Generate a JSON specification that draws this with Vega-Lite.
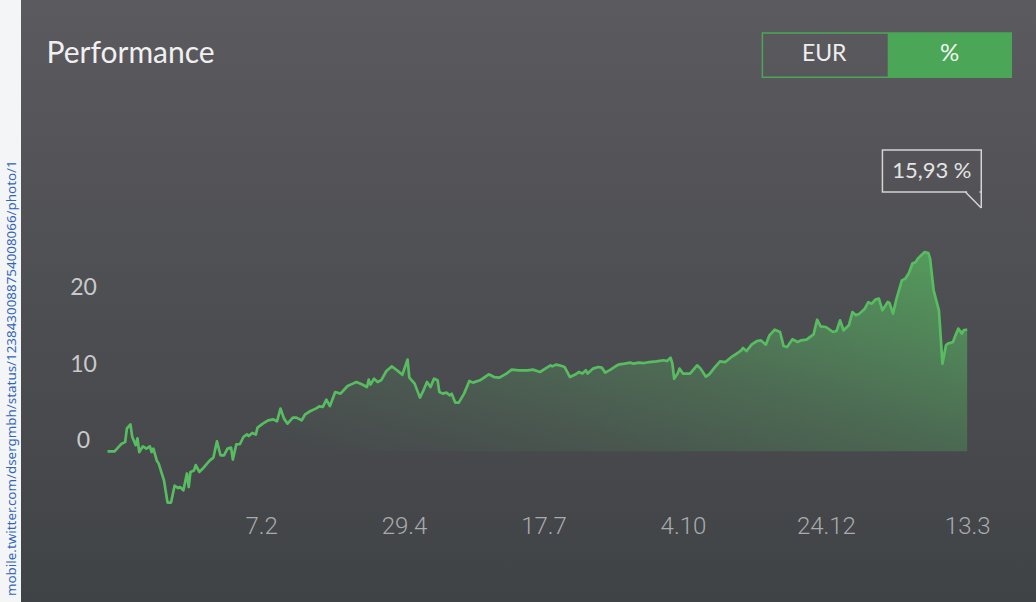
{
  "$schema": "https://vega.github.io/schema/vega-lite/v6.json",
  "width": 1015,
  "height": 602,
  "autosize": {"type": "none"},
  "padding": {"left": 21, "top": 0, "right": 0, "bottom": 0},
  "background": "#f4f5f7",
  "view": {
    "stroke": null,
    "fill": {"gradient": "linear", "x1": 0, "y1": 0, "x2": 0, "y2": 1,
      "stops": [{"offset": 0, "color": "#5b5a5f"}, {"offset": 1, "color": "#404346"}]}
  },
  "title": {
    "text": "mobile.twitter.com/dsergmbh/status/1238430088754008066/photo/1",
    "orient": "left", "anchor": "start", "frame": "group",
    "font": "Noto Sans", "fontSize": 13.4, "fontWeight": "normal", "color": "#3366bb", "offset": 3, "dx": 6
  },
  "config": {
    "axis": {"domain": false, "ticks": false, "tickSize": 0, "grid": false},
    "view": {"stroke": null}
  },
  "layer": [
    {
      "data": {"values": [
        {"date": "2018-11-12", "value": 0},
        {"date": "2018-11-16", "value": 0},
        {"date": "2018-11-20", "value": 1.0},
        {"date": "2018-11-22", "value": 1.2},
        {"date": "2018-11-23", "value": 3.0},
        {"date": "2018-11-25", "value": 3.5},
        {"date": "2018-11-26", "value": 1.9},
        {"date": "2018-11-28", "value": 0.8},
        {"date": "2018-11-29", "value": 1.7},
        {"date": "2018-11-30", "value": -0.1},
        {"date": "2018-12-02", "value": 0.65},
        {"date": "2018-12-04", "value": 0.35},
        {"date": "2018-12-06", "value": 0.65},
        {"date": "2018-12-07", "value": -0.1},
        {"date": "2018-12-08", "value": 0.35},
        {"date": "2018-12-10", "value": -1.27},
        {"date": "2018-12-11", "value": -1.6},
        {"date": "2018-12-14", "value": -3.8},
        {"date": "2018-12-16", "value": -6.7},
        {"date": "2018-12-18", "value": -6.7},
        {"date": "2018-12-20", "value": -4.5},
        {"date": "2018-12-22", "value": -4.8},
        {"date": "2018-12-23", "value": -4.67},
        {"date": "2018-12-25", "value": -5.1},
        {"date": "2018-12-27", "value": -2.9},
        {"date": "2018-12-28", "value": -4.67},
        {"date": "2018-12-29", "value": -2.7},
        {"date": "2018-12-31", "value": -2.5},
        {"date": "2019-01-01", "value": -1.8},
        {"date": "2019-01-03", "value": -2.7},
        {"date": "2019-01-05", "value": -2.26},
        {"date": "2019-01-07", "value": -1.7},
        {"date": "2019-01-09", "value": -1.18},
        {"date": "2019-01-11", "value": -0.82},
        {"date": "2019-01-13", "value": 1.3},
        {"date": "2019-01-15", "value": -0.52},
        {"date": "2019-01-17", "value": -0.52},
        {"date": "2019-01-19", "value": 0.35},
        {"date": "2019-01-21", "value": 0.48},
        {"date": "2019-01-22", "value": -1.08},
        {"date": "2019-01-24", "value": 0.92},
        {"date": "2019-01-26", "value": 0.92},
        {"date": "2019-01-28", "value": 1.87},
        {"date": "2019-01-30", "value": 2.22},
        {"date": "2019-01-31", "value": 2.0},
        {"date": "2019-02-02", "value": 2.4},
        {"date": "2019-02-04", "value": 2.18},
        {"date": "2019-02-05", "value": 3.1},
        {"date": "2019-02-08", "value": 3.62},
        {"date": "2019-02-11", "value": 4.05},
        {"date": "2019-02-14", "value": 4.18},
        {"date": "2019-02-16", "value": 3.92},
        {"date": "2019-02-18", "value": 5.58},
        {"date": "2019-02-20", "value": 4.27},
        {"date": "2019-02-22", "value": 3.62},
        {"date": "2019-02-25", "value": 4.4},
        {"date": "2019-02-27", "value": 4.4},
        {"date": "2019-03-02", "value": 4.05},
        {"date": "2019-03-04", "value": 4.84},
        {"date": "2019-03-07", "value": 5.27},
        {"date": "2019-03-10", "value": 5.58},
        {"date": "2019-03-12", "value": 5.88},
        {"date": "2019-03-14", "value": 5.8},
        {"date": "2019-03-16", "value": 6.76},
        {"date": "2019-03-18", "value": 5.92},
        {"date": "2019-03-21", "value": 7.75},
        {"date": "2019-03-24", "value": 7.54},
        {"date": "2019-03-28", "value": 8.54},
        {"date": "2019-03-31", "value": 8.85},
        {"date": "2019-04-02", "value": 9.06},
        {"date": "2019-04-05", "value": 8.76},
        {"date": "2019-04-08", "value": 8.4},
        {"date": "2019-04-09", "value": 9.37},
        {"date": "2019-04-10", "value": 8.72},
        {"date": "2019-04-12", "value": 9.5},
        {"date": "2019-04-14", "value": 9.06},
        {"date": "2019-04-16", "value": 9.28},
        {"date": "2019-04-19", "value": 10.5},
        {"date": "2019-04-22", "value": 11.1},
        {"date": "2019-04-25", "value": 10.6},
        {"date": "2019-04-28", "value": 10.0},
        {"date": "2019-05-01", "value": 12.0},
        {"date": "2019-05-02", "value": 9.63},
        {"date": "2019-05-05", "value": 8.85},
        {"date": "2019-05-08", "value": 7.02},
        {"date": "2019-05-10", "value": 7.97},
        {"date": "2019-05-12", "value": 9.06},
        {"date": "2019-05-14", "value": 8.4},
        {"date": "2019-05-16", "value": 9.5},
        {"date": "2019-05-18", "value": 9.28},
        {"date": "2019-05-19", "value": 7.75},
        {"date": "2019-05-21", "value": 7.54},
        {"date": "2019-05-23", "value": 7.67},
        {"date": "2019-05-25", "value": 7.32},
        {"date": "2019-05-26", "value": 7.54},
        {"date": "2019-05-28", "value": 6.37},
        {"date": "2019-05-30", "value": 6.37},
        {"date": "2019-06-02", "value": 7.54},
        {"date": "2019-06-05", "value": 9.19},
        {"date": "2019-06-07", "value": 8.98},
        {"date": "2019-06-11", "value": 9.28},
        {"date": "2019-06-16", "value": 10.07},
        {"date": "2019-06-19", "value": 9.71},
        {"date": "2019-06-22", "value": 9.63},
        {"date": "2019-06-26", "value": 10.16},
        {"date": "2019-06-29", "value": 10.68},
        {"date": "2019-07-03", "value": 10.59},
        {"date": "2019-07-08", "value": 10.59},
        {"date": "2019-07-11", "value": 10.68},
        {"date": "2019-07-15", "value": 10.37},
        {"date": "2019-07-18", "value": 10.81},
        {"date": "2019-07-21", "value": 11.24},
        {"date": "2019-07-22", "value": 11.1},
        {"date": "2019-07-24", "value": 11.33},
        {"date": "2019-07-26", "value": 11.24},
        {"date": "2019-07-29", "value": 11.02},
        {"date": "2019-08-01", "value": 9.71},
        {"date": "2019-08-04", "value": 10.03},
        {"date": "2019-08-06", "value": 10.37},
        {"date": "2019-08-08", "value": 10.16},
        {"date": "2019-08-10", "value": 10.59},
        {"date": "2019-08-11", "value": 10.16},
        {"date": "2019-08-14", "value": 10.81},
        {"date": "2019-08-17", "value": 11.02},
        {"date": "2019-08-19", "value": 10.94},
        {"date": "2019-08-21", "value": 10.29},
        {"date": "2019-08-24", "value": 10.68},
        {"date": "2019-08-27", "value": 11.15},
        {"date": "2019-08-29", "value": 11.37},
        {"date": "2019-09-01", "value": 11.46},
        {"date": "2019-09-04", "value": 11.59},
        {"date": "2019-09-06", "value": 11.46},
        {"date": "2019-09-09", "value": 11.59},
        {"date": "2019-09-12", "value": 11.54},
        {"date": "2019-09-15", "value": 11.67},
        {"date": "2019-09-19", "value": 11.76},
        {"date": "2019-09-23", "value": 11.9},
        {"date": "2019-09-25", "value": 11.8},
        {"date": "2019-09-27", "value": 12.25},
        {"date": "2019-09-28", "value": 11.46},
        {"date": "2019-09-29", "value": 9.5},
        {"date": "2019-10-01", "value": 10.16},
        {"date": "2019-10-02", "value": 10.81},
        {"date": "2019-10-04", "value": 10.16},
        {"date": "2019-10-08", "value": 10.16},
        {"date": "2019-10-12", "value": 11.24},
        {"date": "2019-10-14", "value": 10.81},
        {"date": "2019-10-17", "value": 9.76},
        {"date": "2019-10-19", "value": 10.1},
        {"date": "2019-10-22", "value": 10.98},
        {"date": "2019-10-25", "value": 11.76},
        {"date": "2019-10-28", "value": 11.67},
        {"date": "2019-11-01", "value": 12.42},
        {"date": "2019-11-04", "value": 12.85},
        {"date": "2019-11-06", "value": 13.2},
        {"date": "2019-11-07", "value": 13.5},
        {"date": "2019-11-09", "value": 13.11},
        {"date": "2019-11-12", "value": 13.99},
        {"date": "2019-11-15", "value": 14.42},
        {"date": "2019-11-17", "value": 14.51},
        {"date": "2019-11-20", "value": 13.95},
        {"date": "2019-11-22", "value": 15.16},
        {"date": "2019-11-25", "value": 15.9},
        {"date": "2019-11-28", "value": 15.6},
        {"date": "2019-11-30", "value": 13.76},
        {"date": "2019-12-02", "value": 13.63},
        {"date": "2019-12-05", "value": 14.64},
        {"date": "2019-12-08", "value": 14.29},
        {"date": "2019-12-10", "value": 14.51},
        {"date": "2019-12-13", "value": 14.6},
        {"date": "2019-12-17", "value": 15.29},
        {"date": "2019-12-19", "value": 17.2},
        {"date": "2019-12-21", "value": 16.34},
        {"date": "2019-12-24", "value": 16.25},
        {"date": "2019-12-28", "value": 15.6},
        {"date": "2019-12-30", "value": 15.73},
        {"date": "2020-01-01", "value": 17.12},
        {"date": "2020-01-03", "value": 15.82},
        {"date": "2020-01-06", "value": 16.47},
        {"date": "2020-01-08", "value": 18.2},
        {"date": "2020-01-10", "value": 17.8},
        {"date": "2020-01-12", "value": 18.0},
        {"date": "2020-01-15", "value": 18.65},
        {"date": "2020-01-17", "value": 19.5},
        {"date": "2020-01-19", "value": 19.3},
        {"date": "2020-01-21", "value": 19.83},
        {"date": "2020-01-23", "value": 19.96},
        {"date": "2020-01-25", "value": 18.43},
        {"date": "2020-01-28", "value": 19.52},
        {"date": "2020-01-29", "value": 19.39},
        {"date": "2020-01-31", "value": 18.0},
        {"date": "2020-02-02", "value": 19.96},
        {"date": "2020-02-05", "value": 22.35},
        {"date": "2020-02-07", "value": 22.58},
        {"date": "2020-02-09", "value": 23.3},
        {"date": "2020-02-11", "value": 24.54},
        {"date": "2020-02-13", "value": 24.75},
        {"date": "2020-02-14", "value": 25.19},
        {"date": "2020-02-16", "value": 25.62},
        {"date": "2020-02-18", "value": 26.05},
        {"date": "2020-02-20", "value": 25.92},
        {"date": "2020-02-21", "value": 25.19},
        {"date": "2020-02-23", "value": 21.05},
        {"date": "2020-02-26", "value": 18.43},
        {"date": "2020-02-28", "value": 11.46},
        {"date": "2020-03-01", "value": 13.86},
        {"date": "2020-03-02", "value": 14.08},
        {"date": "2020-03-05", "value": 14.29},
        {"date": "2020-03-06", "value": 14.94},
        {"date": "2020-03-08", "value": 16.04},
        {"date": "2020-03-10", "value": 15.39},
        {"date": "2020-03-11", "value": 15.82},
        {"date": "2020-03-13", "value": 15.93}
      ]},
      "encoding": {
        "x": {
          "field": "date", "type": "temporal",
          "scale": {"type": "utc", "domain": [{"year": 2018, "month": 9, "date": 24, "utc": true}, {"year": 2020, "month": 4, "date": 21, "utc": true}]},
          "axis": {
            "values": [
              {"year": 2019, "month": 2, "date": 7, "utc": true},
              {"year": 2019, "month": 4, "date": 29, "utc": true},
              {"year": 2019, "month": 7, "date": 17, "utc": true},
              {"year": 2019, "month": 10, "date": 4, "utc": true},
              {"year": 2019, "month": 12, "date": 24, "utc": true},
              {"year": 2020, "month": 3, "date": 13, "utc": true}
            ],
            "format": "%-d.%-m", "title": null, "orient": "bottom", "offset": -69,
            "labelPadding": 0, "labelBaseline": "alphabetic", "labelAlign": "center",
            "labelFont": "Roboto", "labelFontSize": 24, "labelFontWeight": 300, "labelColor": "#a9abae",
            "labelFlush": false, "labelOverlap": false
          }
        },
        "y": {
          "field": "value", "type": "quantitative",
          "scale": {"domain": [-19.7, 59], "nice": false, "zero": false},
          "axis": {
            "values": [0, 10, 20], "orient": "left", "offset": -87,
            "labelAlign": "center", "labelPadding": 25, "labelBaseline": "alphabetic", "labelOffset": -3.5,
            "labelFont": "Lato", "labelFontSize": 23, "labelColor": "#c9c9cb", "labelFlush": false,
            "title": "Performance", "titleAngle": 0, "titleAlign": "left", "titleBaseline": "alphabetic",
            "titleX": -62, "titleY": 62, "titleFont": "Lato", "titleFontSize": 30, "titleFontWeight": "normal", "titleColor": "#f0f0f0"
          }
        }
      },
      "layer": [
        {
          "mark": {
            "type": "area",
            "fill": {"gradient": "linear", "x1": 0, "y1": 1, "x2": 1, "y2": 0,
              "stops": [
                {"offset": 0, "color": "rgba(85,176,94,0)"},
                {"offset": 0.22, "color": "rgba(85,176,94,0)"},
                {"offset": 0.4, "color": "rgba(85,176,94,0.12)"},
                {"offset": 0.6, "color": "rgba(85,176,94,0.3)"},
                {"offset": 0.8, "color": "rgba(85,176,94,0.55)"},
                {"offset": 1, "color": "rgba(85,176,94,0.8)"}
              ]}
          },
          "encoding": {"y2": {"datum": 0}}
        },
        {
          "mark": {"type": "line", "color": "#58bc61", "strokeWidth": 2.7, "strokeJoin": "round"}
        }
      ]
    },
    {
      "data": {"values": [{}]},
      "mark": {"type": "rect", "color": "#4ba657"},
      "encoding": {
        "x": {"datum": {"year": 2020, "month": 1, "date": 28, "utc": true}, "type": "temporal", "scale": {"type": "utc"}},
        "x2": {"datum": {"year": 2020, "month": 4, "date": 7, "utc": true}},
        "y": {"datum": 54.7, "type": "quantitative"},
        "y2": {"datum": 48.9}
      }
    },
    {
      "data": {"values": [{}]},
      "mark": {"type": "rect", "fill": null, "stroke": "#4ba657", "strokeWidth": 1.5},
      "encoding": {
        "x": {"datum": {"year": 2019, "month": 11, "date": 18, "utc": true}, "type": "temporal", "scale": {"type": "utc"}},
        "x2": {"datum": {"year": 2020, "month": 4, "date": 7, "utc": true}},
        "y": {"datum": 54.7, "type": "quantitative"},
        "y2": {"datum": 48.9}
      }
    },
    {
      "data": {"values": [{}]},
      "mark": {"type": "text", "text": "EUR", "font": "Lato", "fontSize": 23, "color": "#eeeeee", "align": "center", "baseline": "middle"},
      "encoding": {
        "x": {"datum": {"year": 2019, "month": 12, "date": 23, "utc": true}, "type": "temporal", "scale": {"type": "utc"}},
        "y": {"datum": 52.0, "type": "quantitative"}
      }
    },
    {
      "data": {"values": [{}]},
      "mark": {"type": "text", "text": "%", "font": "Lato", "fontSize": 24, "color": "#eef7ef", "align": "center", "baseline": "middle"},
      "encoding": {
        "x": {"datum": {"year": 2020, "month": 3, "date": 3, "utc": true}, "type": "temporal", "scale": {"type": "utc"}},
        "y": {"datum": 52.0, "type": "quantitative"}
      }
    },
    {
      "data": {"values": [{}]},
      "mark": {"type": "rect", "fill": null, "stroke": "#d4d4d4", "strokeWidth": 1.5},
      "encoding": {
        "x": {"datum": {"year": 2020, "month": 1, "date": 25, "utc": true}, "type": "temporal", "scale": {"type": "utc"}},
        "x2": {"datum": {"year": 2020, "month": 3, "date": 21, "utc": true}},
        "y": {"datum": 39.39, "type": "quantitative"},
        "y2": {"datum": 33.9}
      }
    },
    {
      "data": {"values": [{}]},
      "mark": {"type": "rule", "color": "#525357", "strokeWidth": 3},
      "encoding": {
        "x": {"datum": {"year": 2020, "month": 3, "date": 13, "utc": true}, "type": "temporal", "scale": {"type": "utc"}},
        "x2": {"datum": {"year": 2020, "month": 3, "date": 20, "utc": true}},
        "y": {"datum": 33.9, "type": "quantitative"},
        "y2": {"datum": 33.9}
      }
    },
    {
      "data": {"values": [{}]},
      "mark": {"type": "rule", "color": "#d4d4d4", "strokeWidth": 1.5},
      "encoding": {
        "x": {"datum": {"year": 2020, "month": 3, "date": 12, "utc": true}, "type": "temporal", "scale": {"type": "utc"}},
        "x2": {"datum": {"year": 2020, "month": 3, "date": 21, "utc": true}},
        "y": {"datum": 33.9, "type": "quantitative"},
        "y2": {"datum": 31.81}
      }
    },
    {
      "data": {"values": [{}]},
      "mark": {"type": "rule", "color": "#d4d4d4", "strokeWidth": 1.5},
      "encoding": {
        "x": {"datum": {"year": 2020, "month": 3, "date": 21, "utc": true}, "type": "temporal", "scale": {"type": "utc"}},
        "y": {"datum": 33.9, "type": "quantitative"},
        "y2": {"datum": 31.81}
      }
    },
    {
      "data": {"values": [{}]},
      "mark": {"type": "text", "text": "15,93 %", "font": "Lato", "fontSize": 22, "color": "#e4e4e4", "align": "center", "baseline": "middle"},
      "encoding": {
        "x": {"datum": {"year": 2020, "month": 2, "date": 22, "utc": true}, "type": "temporal", "scale": {"type": "utc"}},
        "y": {"datum": 36.64, "type": "quantitative"}
      }
    }
  ]
}
